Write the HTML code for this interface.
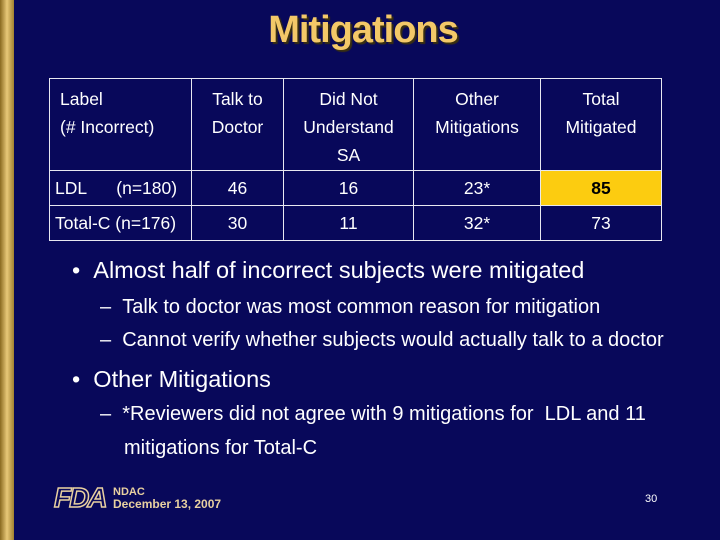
<!DOCTYPE html>
<html><head><meta charset="utf-8"><style>
body{margin:0;width:720px;height:540px;background:#08085a;position:relative;overflow:hidden;font-family:"Liberation Sans",Arial,sans-serif;color:#fff}
.bar{position:absolute;left:0;top:0;width:14px;height:540px;background:linear-gradient(90deg,#8a6a20,#e8c878 50%,#a08030)}
.t{position:absolute;white-space:nowrap}
table{position:absolute;left:49px;top:78px;border-collapse:collapse;table-layout:fixed;width:612px}
td{border:1px solid #e8e8f0;font-size:17.5px;text-align:center;vertical-align:top;padding:0;color:#fff;box-sizing:border-box;overflow:hidden;white-space:nowrap}
</style></head><body>
<div class="bar"></div>
<div class="t" style="left:0;width:726px;top:9px;text-align:center;font-size:38px;font-weight:bold;color:#f3c868;text-shadow:2px 2px 1px #3a3010;letter-spacing:-1px">Mitigations</div>
<table>
<colgroup><col style="width:142px"><col style="width:92px"><col style="width:130px"><col style="width:127px"><col style="width:121px"></colgroup>
<tr style="height:92px">
<td style="text-align:left;padding-left:10px;line-height:28px;padding-top:6px">Label<br>(# Incorrect)</td>
<td style="line-height:28px;padding-top:6px">Talk to<br>Doctor</td>
<td style="line-height:28px;padding-top:6px">Did Not<br>Understand<br>SA</td>
<td style="line-height:28px;padding-top:6px">Other<br>Mitigations</td>
<td style="line-height:28px;padding-top:6px">Total<br>Mitigated</td>
</tr>
<tr style="height:35px">
<td style="text-align:left;vertical-align:middle;padding-left:5px">LDL&nbsp;&nbsp;&nbsp;&nbsp;&nbsp;&nbsp;(n=180)</td>
<td style="vertical-align:middle">46</td><td style="vertical-align:middle">16</td><td style="vertical-align:middle">23*</td>
<td style="vertical-align:middle;background:#fccc10;color:#000;font-weight:bold">85</td>
</tr>
<tr style="height:35px">
<td style="text-align:left;vertical-align:middle;padding-left:5px">Total-C (n=176)</td>
<td style="vertical-align:middle">30</td><td style="vertical-align:middle">11</td><td style="vertical-align:middle">32*</td><td style="vertical-align:middle">73</td>
</tr>
</table>
<div class="t" style="left:72px;top:257px;font-size:23.5px">•&nbsp;&nbsp;Almost half of incorrect subjects were mitigated</div>
<div class="t" style="left:100px;top:296px;font-size:20px">–&nbsp;&nbsp;Talk to doctor was most common reason for mitigation</div>
<div class="t" style="left:100px;top:329px;font-size:20px">–&nbsp;&nbsp;Cannot verify whether subjects would actually talk to a doctor</div>
<div class="t" style="left:72px;top:366px;font-size:23.5px">•&nbsp;&nbsp;Other Mitigations</div>
<div class="t" style="left:100px;top:403px;font-size:20px">–&nbsp;&nbsp;*Reviewers did not agree with 9 mitigations for&nbsp; LDL and 11</div>
<div class="t" style="left:124px;top:437px;font-size:20px">mitigations for Total-C</div>
<div class="t" style="left:54px;top:482px;font-size:28px;font-weight:bold;font-style:italic;color:#08085a;-webkit-text-stroke:1.5px #e8d0a0;letter-spacing:-2px">FDA</div>
<div class="t" style="left:113px;top:486px;font-size:11px;font-weight:bold;color:#e8d0a0">NDAC</div>
<div class="t" style="left:113px;top:497px;font-size:12px;font-weight:bold;color:#e8d0a0">December 13, 2007</div>
<div class="t" style="left:645px;top:493px;font-size:11px">30</div>
</body></html>
